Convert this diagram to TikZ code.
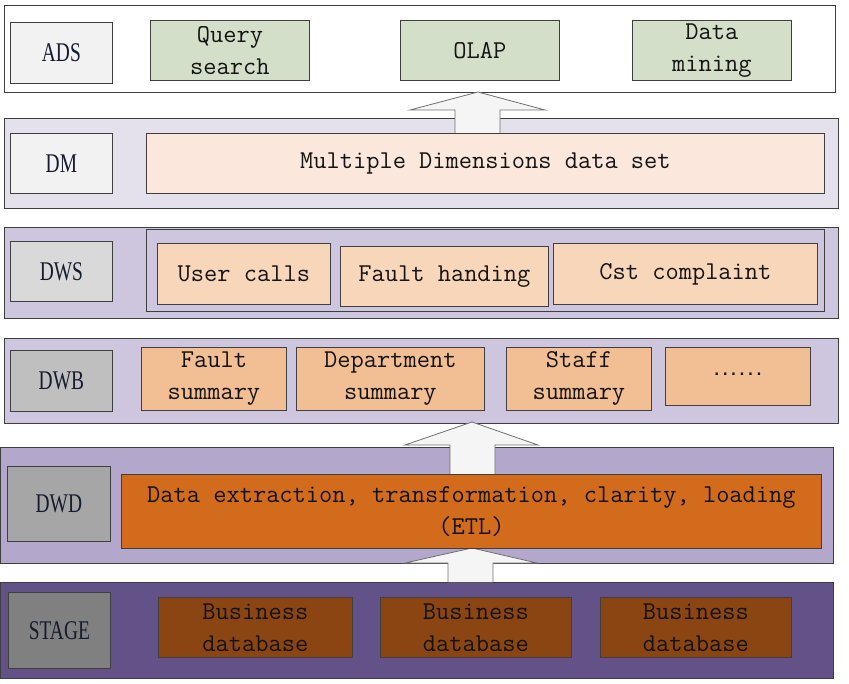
\documentclass[tikz,border=0pt]{standalone}
\usepackage{fontspec}
\newfontfamily\labfont[FakeStretch=0.72]{Liberation Serif}
\newfontfamily\dotfont{DejaVu Sans Mono}
\definecolor{bordc}{HTML}{3F3F3F}
\definecolor{labA}{HTML}{F2F2F2}
\definecolor{greenb}{HTML}{D4DFCA}
\definecolor{dmbg}{HTML}{E4E1ED}
\definecolor{peachL}{HTML}{FBE7DB}
\definecolor{dwsbg}{HTML}{CEC6DE}
\definecolor{labDWS}{HTML}{D9D9D9}
\definecolor{peach}{HTML}{F8D6BA}
\definecolor{labDWB}{HTML}{BFBFBF}
\definecolor{peachD}{HTML}{F2BF95}
\definecolor{dwdbg}{HTML}{B3A7CB}
\definecolor{labDWD}{HTML}{A6A6A6}
\definecolor{etlor}{HTML}{D26C1C}
\definecolor{stagebg}{HTML}{635287}
\definecolor{labST}{HTML}{808080}
\definecolor{brownb}{HTML}{8B4513}
\definecolor{txtc}{HTML}{141414}
\definecolor{labtxt}{HTML}{161C30}
\definecolor{arrowfill}{HTML}{F5F5F5}
\definecolor{arrowline}{HTML}{707070}
\tikzset{
  box/.style={draw=bordc, line width=0.8pt, inner sep=0pt, anchor=north west},
  layer/.style={box},
  lab/.style={box, text=labtxt, font=\labfont\fontsize{27}{30}\selectfont},
  item/.style={box, text=txtc, align=center, font=\ttfamily\fontsize{25.7}{32}\selectfont},
  blockarrow/.style={draw=arrowline, line width=0.8pt, fill=arrowfill, line join=miter}
}
\begin{document}
\begin{tikzpicture}[x=1pt,y=-1pt]
\useasboundingbox (0,0) rectangle (849,684);
% layers
\node[layer, fill=white, minimum width=831, minimum height=87] (ads) at (4,5) {};
\node[layer, fill=dmbg, minimum width=834, minimum height=90] (dm) at (4,118) {};
\node[layer, fill=dwsbg, minimum width=834, minimum height=91] (dws) at (4,227) {};
\node[layer, fill=dwsbg, minimum width=834, minimum height=85] (dwb) at (4,338) {};
\node[layer, fill=dwdbg, minimum width=833, minimum height=116] (dwd) at (0,447) {};
\node[layer, fill=stagebg, minimum width=833, minimum height=96] (stage) at (0,582) {};
% block arrows
\draw[blockarrow] (455,133) -- (455,110) -- (410,110) -- (478,92) -- (545,110) -- (500,110) -- (500,133);
\draw[blockarrow] (450,474) -- (450,445) -- (405,445) -- (472,422) -- (538,445) -- (495,445) -- (495,474);
\draw[blockarrow] (448,582) -- (448,563) -- (405,563) -- (472,548) -- (537,563) -- (493,563) -- (493,582);
% ADS
\node[lab, fill=labA, minimum width=102, minimum height=61] (adsl) at (10,22) {ADS};
\node[item, fill=greenb, minimum width=159, minimum height=60] (query) at (150,20) {Query\\search};
\node[item, fill=greenb, minimum width=159, minimum height=60] (olap) at (400,20) {OLAP};
\node[item, fill=greenb, minimum width=159, minimum height=60] (mining) at (632,20) {Data\\mining};
% DM
\node[lab, fill=labA, minimum width=102, minimum height=60] (dml) at (10,133) {DM};
\node[item, fill=peachL, minimum width=678, minimum height=60] (multi) at (146,133) {Multiple Dimensions data set};
% DWS
\node[lab, fill=labDWS, minimum width=102, minimum height=60] (dwsl) at (10,241) {DWS};
\node[box, fill=dwsbg, minimum width=678, minimum height=82] (dwsin) at (146,229) {};
\node[item, fill=peach, minimum width=173, minimum height=61] (calls) at (157,243) {User calls};
\node[item, fill=peach, minimum width=208, minimum height=60] (fault) at (340,246) {Fault handing};
\node[item, fill=peach, minimum width=264, minimum height=61] (cst) at (553,243) {Cst complaint};
% DWB
\node[lab, fill=labDWB, minimum width=102, minimum height=61] (dwbl) at (10,350) {DWB};
\node[item, fill=peachD, minimum width=145, minimum height=63] (fsum) at (141,347) {Fault\\summary};
\node[item, fill=peachD, minimum width=188, minimum height=63] (dsum) at (296,347) {Department\\summary};
\node[item, fill=peachD, minimum width=145, minimum height=63] (ssum) at (506,347) {Staff\\summary};
\node[item, fill=peachD, minimum width=145, minimum height=58, font=\dotfont\bfseries\fontsize{14}{18}\selectfont] (dots) at (665,347) {\raisebox{4pt}{......}};
% DWD
\node[lab, fill=labDWD, minimum width=103, minimum height=75] (dwdl) at (7,466) {DWD};
\node[item, fill=etlor, minimum width=700, minimum height=74] (etl) at (121,474) {Data extraction, transformation, clarity, loading\\(ETL)};
% STAGE
\node[lab, fill=labST, minimum width=102, minimum height=76] (stagel) at (8,592) {STAGE};
\node[item, fill=brownb, minimum width=194, minimum height=60] (bd1) at (158,597) {Business\\database};
\node[item, fill=brownb, minimum width=191, minimum height=60] (bd2) at (380,597) {Business\\database};
\node[item, fill=brownb, minimum width=191, minimum height=60] (bd3) at (600,597) {Business\\database};
\end{tikzpicture}
\end{document}
